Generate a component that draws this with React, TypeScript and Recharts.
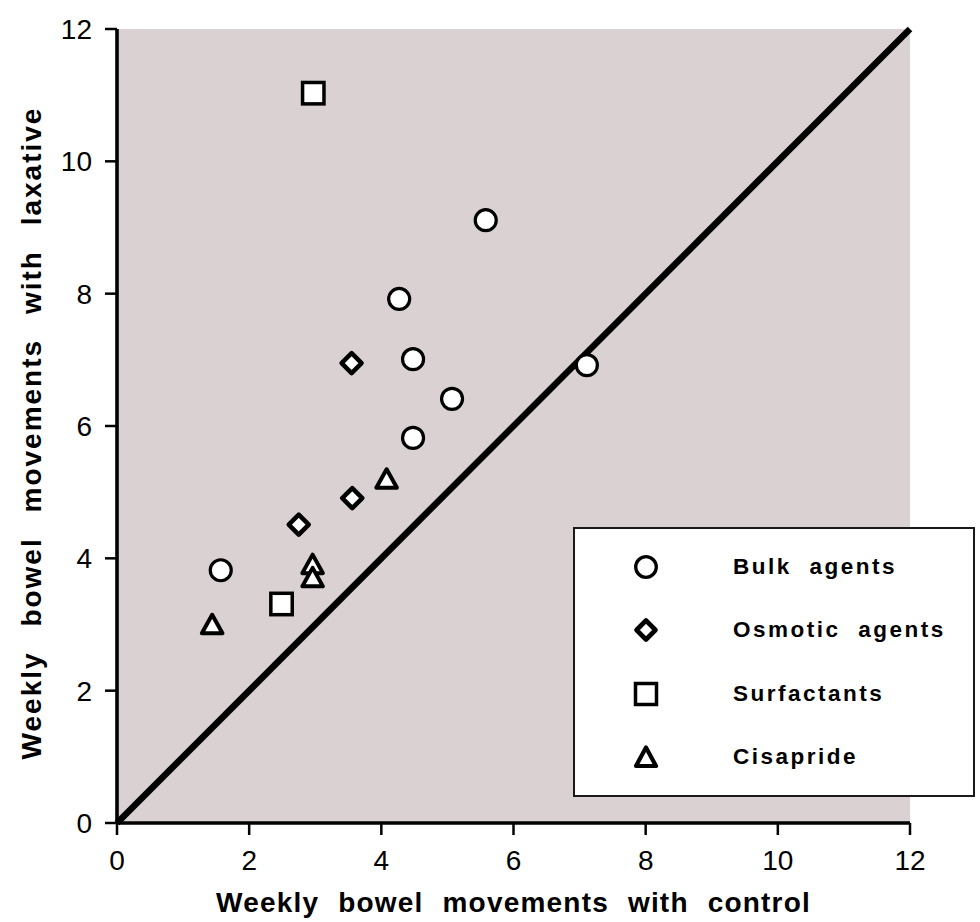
import React from 'react';
import {
  ScatterChart,
  Scatter,
  XAxis,
  YAxis,
  ReferenceArea,
  ReferenceLine,
  Legend,
} from 'recharts';

const bulkAgents = [
  { x: 1.57, y: 3.82 },
  { x: 4.27, y: 7.92 },
  { x: 5.58, y: 9.11 },
  { x: 4.48, y: 7.01 },
  { x: 5.07, y: 6.41 },
  { x: 4.48, y: 5.82 },
  { x: 7.11, y: 6.92 },
];
const osmoticAgents = [
  { x: 3.55, y: 6.95 },
  { x: 3.56, y: 4.91 },
  { x: 2.75, y: 4.51 },
];
const surfactants = [
  { x: 2.97, y: 11.03 },
  { x: 2.49, y: 3.31 },
];
const cisapride = [
  { x: 1.44, y: 3.01 },
  { x: 2.96, y: 3.92 },
  { x: 2.96, y: 3.72 },
  { x: 4.08, y: 5.21 },
];
const axisTicks = [0, 2, 4, 6, 8, 10, 12];
const seriesNames = ['Bulk agents', 'Osmotic agents', 'Surfactants', 'Cisapride'];
const xTitle = 'Weekly bowel movements with control';
const yTitle = 'Weekly bowel movements with laxative';

const FONT = '"Liberation Sans", Arial, Helvetica, sans-serif';
const PLOT_BG = '#d9d1d2';

const CircleShape = (p: any) => (
  <circle cx={p.cx} cy={p.cy} r={10.5} fill="#fff" stroke="#000" strokeWidth={3.2} />
);
const DiamondShape = (p: any) => {
  const { cx, cy } = p;
  const d = 10;
  return (
    <path
      d={`M${cx},${cy - d}L${cx + d},${cy}L${cx},${cy + d}L${cx - d},${cy}Z`}
      fill="#fff"
      stroke="#000"
      strokeWidth={4.5}
      strokeLinejoin="round"
    />
  );
};
const SquareShape = (p: any) => {
  const { cx, cy } = p;
  const h = 10.7;
  return (
    <rect x={cx - h} y={cy - h} width={2 * h} height={2 * h} fill="#fff" stroke="#000" strokeWidth={3.5} />
  );
};
const TriangleShape = (p: any) => {
  const { cx, cy } = p;
  return (
    <path
      d={`M${cx},${cy - 9}L${cx + 10.3},${cy + 9.5}L${cx - 10.3},${cy + 9.5}Z`}
      fill="#fff"
      stroke="#000"
      strokeWidth={4}
      strokeLinejoin="round"
    />
  );
};

const legendIcons = [
  <circle cx={15} cy={15} r={10.3} fill="#fff" stroke="#000" strokeWidth={3.3} />,
  <path d="M15,5.5L24.5,15L15,24.5L5.5,15Z" fill="#fff" stroke="#000" strokeWidth={4.6} strokeLinejoin="round" />,
  <rect x={4.5} y={4.5} width={21} height={21} fill="#fff" stroke="#000" strokeWidth={3.5} />,
  <path d="M15,5.5L25,24L5,24Z" fill="#fff" stroke="#000" strokeWidth={4.2} strokeLinejoin="round" />,
];

const LegendBox = () => (
  <div
    style={{
      width: 402,
      height: 270,
      boxSizing: 'border-box',
      border: '2px solid #1a1a1a',
      background: '#fff',
      paddingTop: 6,
    }}
  >
    {seriesNames.map((name, i) => (
      <div key={name} style={{ display: 'flex', alignItems: 'center', height: 63.5 }}>
        <svg width={30} height={30} style={{ marginLeft: 56, display: 'block' }}>
          {legendIcons[i]}
        </svg>
        <span
          style={{
            marginLeft: 72,
            fontFamily: FONT,
            fontWeight: 'bold',
            fontSize: 22.5,
            letterSpacing: 2.5,
            wordSpacing: 9,
            color: '#000',
          }}
        >
          {name}
        </span>
      </div>
    ))}
  </div>
);

const YTitle = (props: any) => {
  const vb = props.viewBox || { x: 0, y: 29, width: 117, height: 794 };
  const cx = vb.x + 31;
  const cy = vb.y + vb.height / 2 + 7;
  return (
    <text
      x={cx}
      y={cy}
      transform={`rotate(-90 ${cx} ${cy})`}
      textAnchor="middle"
      dominantBaseline="central"
      style={{
        fontSize: 28,
        fontWeight: 'bold',
        fill: '#000',
        fontFamily: FONT,
        letterSpacing: 2,
        wordSpacing: 15,
      }}
    >
      {yTitle}
    </text>
  );
};

export default function App() {
  const tickStyle = { fontSize: 28, fill: '#000', fontFamily: FONT };
  const titleStyle = {
    fontSize: 28,
    fontWeight: 'bold',
    fill: '#000',
    fontFamily: FONT,
    letterSpacing: 1.2,
    wordSpacing: 10,
    textAnchor: 'middle',
  } as any;
  return (
    <div style={{ position: 'absolute', left: 0, top: 0, background: '#fff' }}>
      <ScatterChart
        width={980}
        height={922}
        margin={{ top: 29, right: 70, bottom: 0, left: 0 }}
      >
        <XAxis
          type="number"
          dataKey="x"
          domain={[0, 12]}
          ticks={axisTicks}
          allowDataOverflow
          height={99}
          axisLine={{ stroke: '#000', strokeWidth: 3.4 }}
          tickLine={{ stroke: '#000', strokeWidth: 2.5 }}
          tickSize={12}
          tickMargin={15}
          tick={tickStyle}
          label={{
            value: xTitle,
            position: 'insideBottom',
            offset: 10,
            style: titleStyle,
          }}
        />
        <YAxis
          type="number"
          dataKey="y"
          domain={[0, 12]}
          ticks={axisTicks}
          allowDataOverflow
          width={117}
          axisLine={{ stroke: '#000', strokeWidth: 3.6 }}
          tickLine={{ stroke: '#000', strokeWidth: 2.5 }}
          tickSize={12}
          tickMargin={13}
          tick={tickStyle}
          label={{ content: (props: any) => <YTitle {...props} /> }}
        />
        <ReferenceArea x1={0} x2={12} y1={0} y2={12} fill={PLOT_BG} fillOpacity={1} stroke="none" ifOverflow="visible" />
        <ReferenceLine
          segment={[{ x: 0, y: 0 }, { x: 12, y: 12 }]}
          stroke="#000"
          strokeWidth={6.5}
          ifOverflow="visible"
        />
        <Scatter name="Bulk agents" data={bulkAgents} shape={CircleShape} isAnimationActive={false} />
        <Scatter name="Osmotic agents" data={osmoticAgents} shape={DiamondShape} isAnimationActive={false} />
        <Scatter name="Surfactants" data={surfactants} shape={SquareShape} isAnimationActive={false} />
        <Scatter name="Cisapride" data={cisapride} shape={TriangleShape} isAnimationActive={false} />
        <Legend
          layout="horizontal"
          verticalAlign="middle"
          align="center"
          content={() => <LegendBox />}
          wrapperStyle={{ position: 'absolute', left: 573, top: 527, width: 402, height: 270 }}
        />
      </ScatterChart>
    </div>
  );
}
